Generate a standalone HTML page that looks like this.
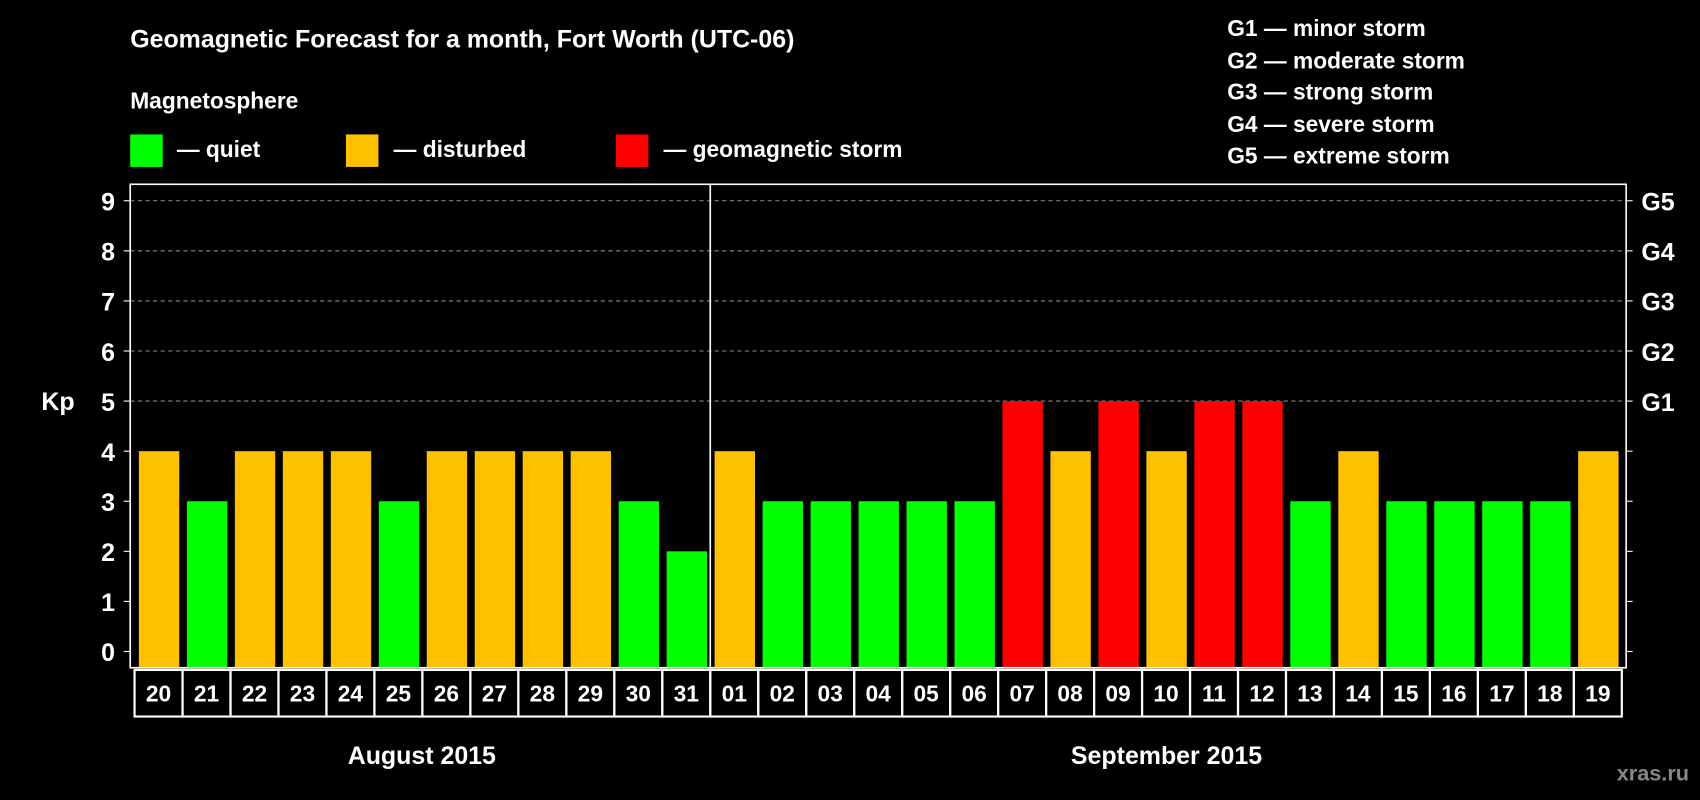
<!DOCTYPE html>
<html><head><meta charset="utf-8"><style>
html,body{margin:0;padding:0;background:#000;}
svg{display:block;font-family:"Liberation Sans",Arial,sans-serif;font-weight:bold;}
</style></head><body>
<svg id="chart" width="1700" height="800" viewBox="0 0 1568 738" xmlns="http://www.w3.org/2000/svg">
<rect width="1568" height="738" fill="#000"/>
<text x="120" y="44" fill="#fff" font-size="23">Geomagnetic Forecast for a month, Fort Worth (UTC-06)</text>
<text x="120" y="100" fill="#fff" font-size="21">Magnetosphere</text>
<g><rect x="120" y="124" width="30" height="30" fill="#00ff00"/><text x="163" y="145" fill="#fff" font-size="21">— quiet</text></g>
<g><rect x="319" y="124" width="30" height="30" fill="#ffc000"/><text x="363" y="145" fill="#fff" font-size="21">— disturbed</text></g>
<g><rect x="568" y="124" width="30" height="30" fill="#ff0000"/><text x="612" y="145" fill="#fff" font-size="21">— geomagnetic storm</text></g>
<g fill="#fff" font-size="21">
<text x="1132" y="33">G1 — minor storm</text>
<text x="1132" y="63">G2 — moderate storm</text>
<text x="1132" y="92">G3 — strong storm</text>
<text x="1132" y="122">G4 — severe storm</text>
<text x="1132" y="151">G5 — extreme storm</text>
</g>
<text x="38" y="378" fill="#fff" font-size="23">Kp</text>
<g id="grid"></g><g id="bars"></g><g id="axes"></g><g id="dates"></g>
<text x="389" y="705" fill="#fff" font-size="23" text-anchor="middle">August 2015</text>
<text x="1076" y="705" fill="#fff" font-size="23" text-anchor="middle">September 2015</text>
<text x="1558" y="720" fill="#888" font-size="20" text-anchor="end">xras.ru</text>
</svg>
<script>
const days = ["20","21","22","23","24","25","26","27","28","29","30","31","01","02","03","04","05","06","07","08","09","10","11","12","13","14","15","16","17","18","19"];
const kpValues = [4,3,4,4,4,3,4,4,4,4,3,2,4,3,3,3,3,3,5,4,5,4,5,5,3,4,3,3,3,3,4];
const yTicks = [0,1,2,3,4,5,6,7,8,9];
const gLabels = ["G1","G2","G3","G4","G5"];
const NS="http://www.w3.org/2000/svg";
const L=120,R=1500,T=170,B=616,X0=124,X1=1496;
const yScale=v=>601-v*46.2;
const slot=(X1-X0)/days.length;
const xScale=i=>X0+i*slot;
function mk(tag,attrs,parent,txt){const e=document.createElementNS(NS,tag);for(const k in attrs)e.setAttribute(k,attrs[k]);if(txt!==undefined)e.textContent=txt;parent.appendChild(e);return e;}
const grid=document.getElementById('grid'),bars=document.getElementById('bars'),axes=document.getElementById('axes'),dates=document.getElementById('dates');
yTicks.forEach(v=>{
  const y=yScale(v);
  if(v>=5){const g=mk('line',{x1:L,x2:R,y1:y,y2:y,stroke:'#888','stroke-dasharray':'4,3','stroke-width':1},grid);
  
  }
  const t=mk('text',{x:106,y:y+9,fill:'#fff','font-size':23,'text-anchor':'end'},axes,String(v));
  
  
  mk('line',{x1:L-6,x2:L,y1:y,y2:y,stroke:'#fff'},axes);
  mk('line',{x1:R,x2:R+6,y1:y,y2:y,stroke:'#fff'},axes);
});
gLabels.forEach((g,i)=>{
  const t=mk('text',{x:1514,y:yScale(5+i)+9,fill:'#fff','font-size':23},axes,g);
  
  
});
kpValues.forEach((v,i)=>{
  const c=v>=5?'#ff0000':(v>=4?'#ffc000':'#00ff00');
  const top=yScale(v);
  const b=mk('rect',{x:xScale(i)+4,y:top,width:slot-7,height:B-top,fill:c},bars);
  
  
  const d=mk('rect',{x:xScale(i),y:618,width:slot,height:43,fill:'none',stroke:'#fff','stroke-width':2},dates);
  
  
  const t=mk('text',{x:xScale(i)+slot/2,y:647,fill:'#fff','font-size':21,'text-anchor':'middle'},dates,days[i]);
  
  
});
const frame=mk('rect',{x:L,y:T,width:R-L,height:B-T,fill:'none',stroke:'#fff','stroke-width':1.5},axes);


const sep=mk('line',{x1:xScale(12),x2:xScale(12),y1:T,y2:B,stroke:'#fff','stroke-width':1.5},axes);


</script>
</body></html>
